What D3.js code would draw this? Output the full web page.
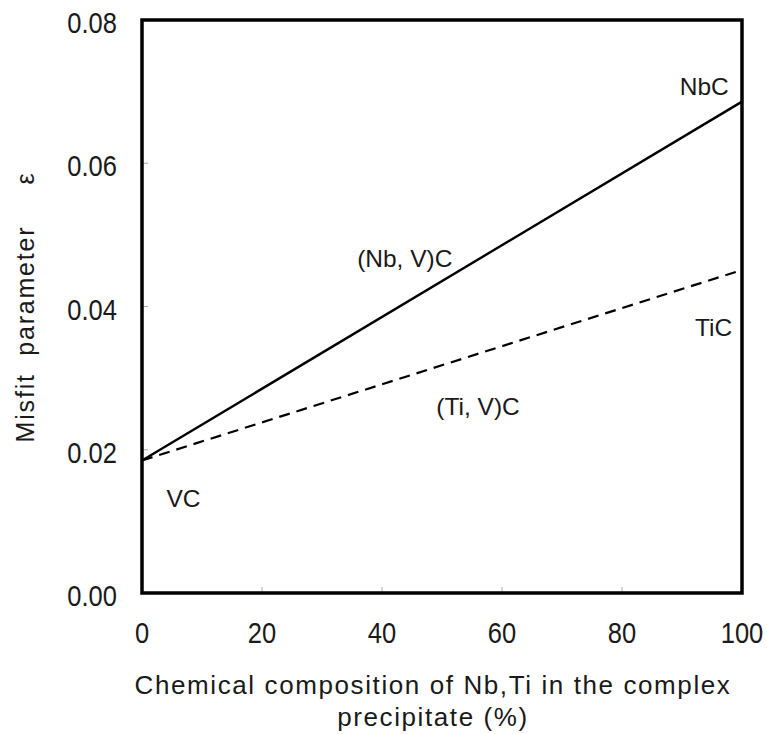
<!DOCTYPE html>
<html><head><meta charset="utf-8">
<script src="https://cdn.jsdelivr.net/npm/d3@7"></script>
<style>body{margin:0;background:#fff}</style>
</head><body><svg id="c" width="767" height="734"></svg>
<script>
const composition = [0, 100];
const nbvC = [0.0185, 0.0686];
const tivC = [0.0185, 0.0451];
const xTicks = [0, 20, 40, 60, 80, 100];
const yTicks = [0.00, 0.02, 0.04, 0.06, 0.08];
const labels = [
  {text: "NbC", x: 93.7, y: 0.0695},
  {text: "(Nb, V)C", x: 43.8, y: 0.0455},
  {text: "TiC", x: 95.25, y: 0.0359},
  {text: "(Ti, V)C", x: 56, y: 0.02485},
  {text: "VC", x: 6.9, y: 0.0120}
];

const svg = d3.select("#c");
const font = "'Liberation Sans', Arial, sans-serif";
const ink = "#1a1a1a";
const x = d3.scaleLinear().domain([0, 100]).range([142, 742]);
const y = d3.scaleLinear().domain([0, 0.08]).range([593, 20]);

// inner minor ticks
const g = svg.append("g");
g.selectAll(".xt").data(xTicks.slice(1, -1)).join("line")
  .attr("x1", d => x(d)).attr("x2", d => x(d))
  .attr("y1", y(0)).attr("y2", y(0) - 6)
  .attr("stroke", "#aaa").attr("stroke-width", 1);
g.selectAll(".yt").data(yTicks.slice(1, -1)).join("line")
  .attr("y1", d => y(d)).attr("y2", d => y(d))
  .attr("x1", x(0)).attr("x2", x(0) + 6)
  .attr("stroke", "#aaa").attr("stroke-width", 1);

const line = d3.line().x(d => x(d[0])).y(d => y(d[1]));
svg.append("path").datum(composition.map((c, i) => [c, nbvC[i]]))
  .attr("d", line).attr("fill", "none").attr("stroke", "#000").attr("stroke-width", 2.4);
svg.append("path").datum(composition.map((c, i) => [c, tivC[i]]))
  .attr("d", line).attr("fill", "none").attr("stroke", "#000").attr("stroke-width", 2.2)
  .attr("stroke-dasharray", "11,7");

// frame
svg.append("rect").attr("x", x(0)).attr("y", y(0.08))
  .attr("width", x(100) - x(0)).attr("height", y(0) - y(0.08))
  .attr("fill", "none").attr("stroke", "#000").attr("stroke-width", 3.5);

// tick labels (condensed gothic look)
svg.selectAll(".xl").data(xTicks).join("text")
  .attr("transform", d => `translate(${x(d)},643) scale(0.88,1)`)
  .attr("text-anchor", "middle")
  .attr("font-family", font).attr("font-size", 29).attr("fill", ink)
  .text(d => d);
svg.selectAll(".yl").data(yTicks).join("text")
  .attr("transform", d => `translate(117,${y(d) + 13}) scale(0.88,1)`)
  .attr("text-anchor", "end")
  .attr("font-family", font).attr("font-size", 29).attr("fill", ink)
  .text(d => d.toFixed(2));

// annotations
svg.selectAll(".an").data(labels).join("text")
  .attr("x", d => x(d.x)).attr("y", d => y(d.y)).attr("text-anchor", "middle")
  .attr("font-family", font).attr("font-size", 24.5).attr("fill", ink)
  .text(d => d.text);

// axis titles
svg.append("text").attr("x", 433).attr("y", 694).attr("text-anchor", "middle")
  .attr("font-family", font).attr("font-size", 26).attr("fill", ink)
  .attr("letter-spacing", 1.6)
  .text("Chemical composition of Nb,Ti in the complex");
svg.append("text").attr("x", 433).attr("y", 726).attr("text-anchor", "middle")
  .attr("font-family", font).attr("font-size", 26).attr("fill", ink)
  .attr("letter-spacing", 1.6)
  .text("precipitate (%)");
svg.append("text").attr("transform", "translate(34,334) rotate(-90)")
  .attr("text-anchor", "middle")
  .attr("font-family", font).attr("font-size", 25).attr("fill", ink)
  .attr("letter-spacing", 1.8)
  .attr("xml:space", "preserve")
  .text("Misfit  parameter");
svg.append("text").attr("transform", "translate(34,179) rotate(-90)")
  .attr("text-anchor", "middle")
  .attr("font-family", font).attr("font-size", 25).attr("fill", ink)
  .text("\u03b5");
</script></body></html>
